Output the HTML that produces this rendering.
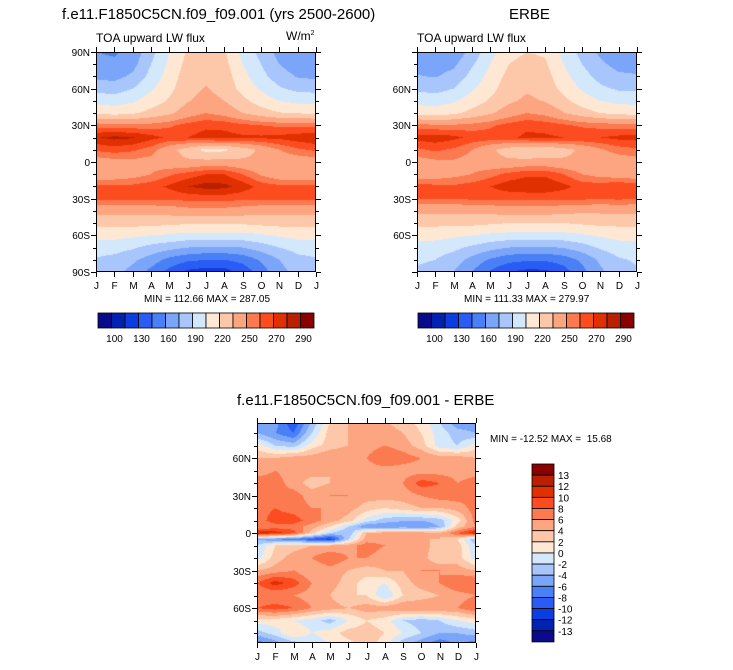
<!DOCTYPE html>
<html><head><meta charset="utf-8">
<style>
html,body{margin:0;padding:0;background:#fff;}
#root{position:relative;width:733px;height:670px;overflow:hidden;font-family:"Liberation Sans",sans-serif;color:#000;}
.t{position:absolute;white-space:nowrap;}
canvas{position:absolute;}
svg{position:absolute;left:0;top:0;}
</style></head>
<body>
<div id="root">
<div class="t" style="left:62px;top:6px;font-size:15px;">f.e11.F1850C5CN.f09_f09.001 (yrs 2500-2600)</div>
<div class="t" style="left:509px;top:6px;font-size:15px;">ERBE</div>
<div class="t" style="left:96px;top:31px;font-size:12px;">TOA upward LW flux</div>
<div class="t" style="left:286px;top:29px;font-size:12px;">W/m<sup style="font-size:7px">2</sup></div>
<div class="t" style="left:417px;top:31px;font-size:12px;">TOA upward LW flux</div>
<div class="t" style="left:144px;top:294px;font-size:10px;">MIN = 112.66 MAX = 287.05</div>
<div class="t" style="left:464px;top:294px;font-size:10px;">MIN = 111.33 MAX = 279.97</div>
<div class="t" style="left:237px;top:392px;font-size:15px;">f.e11.F1850C5CN.f09_f09.001 - ERBE</div>
<div class="t" style="left:490px;top:434px;font-size:10px;">MIN = -12.52 MAX =&nbsp; 15.68</div>
<canvas id="c0" width="220" height="220" style="left:96px;top:52px"></canvas>
<canvas id="c1" width="220" height="220" style="left:417px;top:52px"></canvas>
<canvas id="c2" width="219" height="220" style="left:257px;top:423px"></canvas>
<svg id="ov" width="733" height="670"></svg>
</div>
<script>
const months = ["J","F","M","A","M","J","J","A","S","O","N","D","J"];
const levels = [100,115,130,145,160,175,190,205,220,235,250,260,270,280,290];
const levelLabels = ["100","130","160","190","220","250","270","290"];
const diffLevels = [-13,-12,-10,-8,-6,-4,-2,0,2,4,6,8,10,12,13];
const diffLabels = ["13","12","10","8","6","4","2","0","-2","-4","-6","-8","-10","-12","-13"];
const palette = ["#0a0a8a","#0022b0","#0a3ee0","#2a5cf5","#4a80f5","#7aa5f8","#a8c6fb","#d4e8fc","#fee8d4","#fdc8aa","#fca580","#fb7a50","#fc4c20","#e03000","#b82000","#8a0000"];
const lats = [90,80,70,60,50,40,30,20,10,0,-10,-20,-30,-40,-50,-60,-70,-80,-90];
const modelValues = [
[160,158,165,185,205,222,225,222,200,185,170,162,160],
[165,163,170,190,208,225,228,225,205,190,175,166,165],
[172,170,178,195,212,228,232,228,210,195,182,174,172],
[185,183,190,203,216,230,236,230,215,203,192,186,185],
[200,198,203,212,222,234,240,235,224,213,205,201,200],
[218,215,218,225,232,243,250,245,235,227,221,219,218],
[256,254,253,254,258,264,268,267,263,260,258,257,256],
[279,283,281,274,268,270,274,274,272,272,273,276,279],
[262,265,262,255,240,228,215,217,228,238,250,258,262],
[242,245,246,245,240,238,240,240,238,238,240,241,242],
[238,240,244,250,258,264,270,270,260,248,240,237,238],
[263,263,263,266,272,280,284,283,276,266,263,263,263],
[262,262,262,262,262,263,264,264,262,262,262,262,262],
[240,240,240,240,242,245,245,245,243,240,240,240,240],
[225,225,225,225,223,222,222,222,222,224,225,225,225],
[210,210,208,205,203,200,200,200,200,203,207,210,210],
[198,196,192,185,180,175,173,173,175,182,190,196,198],
[188,185,178,168,155,148,145,145,150,162,175,185,188],
[182,180,170,155,140,126,122,123,135,152,170,180,182]];
const erbeValues = [
[165,160,165,180,200,215,220,218,200,185,172,165,165],
[170,168,172,188,205,220,225,222,205,190,178,170,170],
[176,174,180,195,210,225,230,226,210,196,185,178,176],
[187,185,190,203,215,228,233,229,215,203,193,188,187],
[200,198,203,212,222,232,238,234,224,213,205,201,200],
[215,213,217,225,233,243,250,246,236,227,220,216,215],
[254,252,252,254,258,264,268,266,262,258,256,255,254],
[274,276,273,267,266,268,272,272,270,270,270,273,274],
[258,262,258,250,238,228,222,224,230,238,248,255,258],
[244,247,248,245,240,238,240,240,238,238,240,242,244],
[240,242,246,250,256,263,268,268,260,250,245,242,240],
[266,263,262,265,270,276,278,278,273,266,266,270,266],
[260,260,260,262,262,262,262,262,262,262,260,262,260],
[238,238,238,238,240,242,242,242,240,238,238,238,238],
[224,224,224,224,222,220,220,220,220,222,224,224,224],
[210,210,208,205,202,200,200,200,200,203,207,210,210],
[200,198,194,187,180,175,173,173,176,183,192,198,200],
[192,190,182,170,158,150,147,147,152,163,178,188,192],
[188,185,175,160,143,130,125,126,138,155,172,183,188]];
const diffLats = [90,80,70,60,50,40,30,20,10,5,0,-5,-10,-20,-30,-40,-50,-60,-70,-80,-90];
const diffValues = [
[-6,-5,-10,-4,2,4,4,4,3,1,-2,-6,-6],
[-4,-6,-8,-2,3,4,4,5,4,2,-1,-3,-4],
[1,-2,-3,1,3,4,5,6,5,3,-1,-2,1],
[4,4,5,5,6,6,6,8,7,6,5,5,4],
[5,6,5,5,4,5,5,5,5,5,5,5,5],
[7,7,5,3,4,5,4,4,6,9,8,6,7],
[6,6,7,5,6,6,5,5,5,6,7,7,6],
[7,8,7,6,6,5,3,2,3,4,4,5,7],
[7,9,9,7,5,3,-1,-3,-4,-4,-3,1,7],
[6,7,7,5,2,-2,-6,-6,-5,-6,-4,3,6],
[12,11,9,3,-2,-4,4,5,5,5,4,8,12],
[-4,-6,-7,-9,-11,-2,5,5,5,4,4,2,-4],
[-2,2,3,4,4,5,7,6,5,5,3,3,-2],
[-1,3,5,6,8,6,6,5,4,5,2,3,-1],
[4,5,6,4,5,4,3,4,4,6,6,5,4],
[8,11,9,6,5,3,1,0,3,5,6,8,8],
[6,6,6,5,4,2,2,-2,2,3,4,5,6],
[8,9,8,6,5,4,5,5,6,6,6,6,8],
[1,1,0,-1,-3,0,2,1,-2,-3,-2,0,1],
[-3,-1,2,0,1,3,3,2,0,-2,-4,-4,-3],
[-8,-6,-4,-2,0,1,3,1,-4,-6,-8,-6,-8]];

function colorFor(v, lv){ let i=0; while(i<lv.length && v>=lv[i]) i++; return palette[i]; }
function sample(grid, la, m, lat){
  const mi=Math.min(11,Math.floor(m)), mf=m-mi;
  let r=0; while(r<la.length-2 && lat<la[r+1]) r++;
  const rf=(la[r]-lat)/(la[r]-la[r+1]);
  const a=grid[r][mi]*(1-mf)+grid[r][mi+1]*mf;
  const b=grid[r+1][mi]*(1-mf)+grid[r+1][mi+1]*mf;
  return a*(1-rf)+b*rf;
}
function drawMap(id, grid, la, latTop, lv){
  const c=document.getElementById(id), ctx=c.getContext('2d');
  const W=c.width,H=c.height;
  for(let y=0;y<H;y++){
    const lat=latTop-(y+0.5)/H*2*latTop;
    for(let x=0;x<W;x++){
      const m=(x+0.5)/W*12;
      ctx.fillStyle=colorFor(sample(grid,la,m,lat),lv);
      ctx.fillRect(x,y,1,1);
    }
  }
}
drawMap('c0',modelValues,lats,90,levels);
drawMap('c1',erbeValues,lats,90,levels);
drawMap('c2',diffValues,diffLats,88,diffLevels);

const NS='http://www.w3.org/2000/svg', ov=document.getElementById('ov');
function el(tag,attrs,txt){const e=document.createElementNS(NS,tag);for(const k in attrs)e.setAttribute(k,attrs[k]);if(txt!==undefined)e.textContent=txt;ov.appendChild(e);return e;}
function line(x1,y1,x2,y2,name){const e=el('line',{x1,y1,x2,y2,stroke:'#000','stroke-width':1});

}
function txt(x,y,s,anchor,size,name){const e=el('text',{x,y,'text-anchor':anchor,'font-size':size,'font-family':'Liberation Sans, sans-serif'},s);

}
function axes(x0,y0,W,H,latTop,latLabels){
  const r=el('rect',{x:x0+0.5,y:y0+0.5,width:W-1,height:H-1,fill:'none',stroke:'#000','stroke-width':1});
  
  
  const yOf=lat=>y0+(latTop-lat)/(2*latTop)*H;
  for(let lat=-90;lat<=90;lat+=10){
    if(Math.abs(lat)>latTop+0.01) continue;
    const y=Math.round(yOf(lat))+0.5, major=lat%30===0, L=major?5:3;
    line(x0-L,y,x0,y,'y-tick'); line(x0+W,y,x0+W+L,y,'y-tick-right');
    if(major && latLabels){
      const s=lat===0?'0':(Math.abs(lat)+(lat>0?'N':'S'));
      if(latLabels==='all' || Math.abs(lat)<90) txt(x0-6,y+3.5,s,'end',10,'y-tick-label');
    }
  }
  for(let i=0;i<13;i++){
    const x=Math.round(x0+i*W/12)+0.5;
    line(x,y0+H,x,y0+H+5,'x-tick'); line(x,y0-5,x,y0,'x-tick-top');
    txt(x,y0+H+17,months[i],'middle',10,'x-tick-label');
  }
}
axes(96,52,220,220,90,'all');
axes(417,52,220,220,90,'inner');
axes(257,423,219,220,88,'inner');

function hbar(x0,y0){
  const bw=13.5;
  for(let i=0;i<16;i++){
    const r=el('rect',{x:x0+i*bw,y:y0,width:bw,height:15,fill:palette[i],stroke:'#000','stroke-width':0.8});
    
    
  }
  for(let k=0;k<levelLabels.length;k++){
    txt(x0+(2*k+1)*bw+3,y0+29,levelLabels[k],'middle',10,'colorbar-label');
  }
}
hbar(98,313);
hbar(418,313);
function vbar(x0,y0){
  const bh=11.12;
  for(let i=0;i<16;i++){
    const r=el('rect',{x:x0,y:y0+i*bh,width:22,height:bh,fill:palette[15-i],stroke:'#000','stroke-width':0.8});
    
    
  }
  for(let k=0;k<diffLabels.length;k++){
    txt(x0+26,y0+(k+1)*bh+4,diffLabels[k],'start',10,'diff-colorbar-label');
  }
}
vbar(532,464);
</script>
</body></html>
